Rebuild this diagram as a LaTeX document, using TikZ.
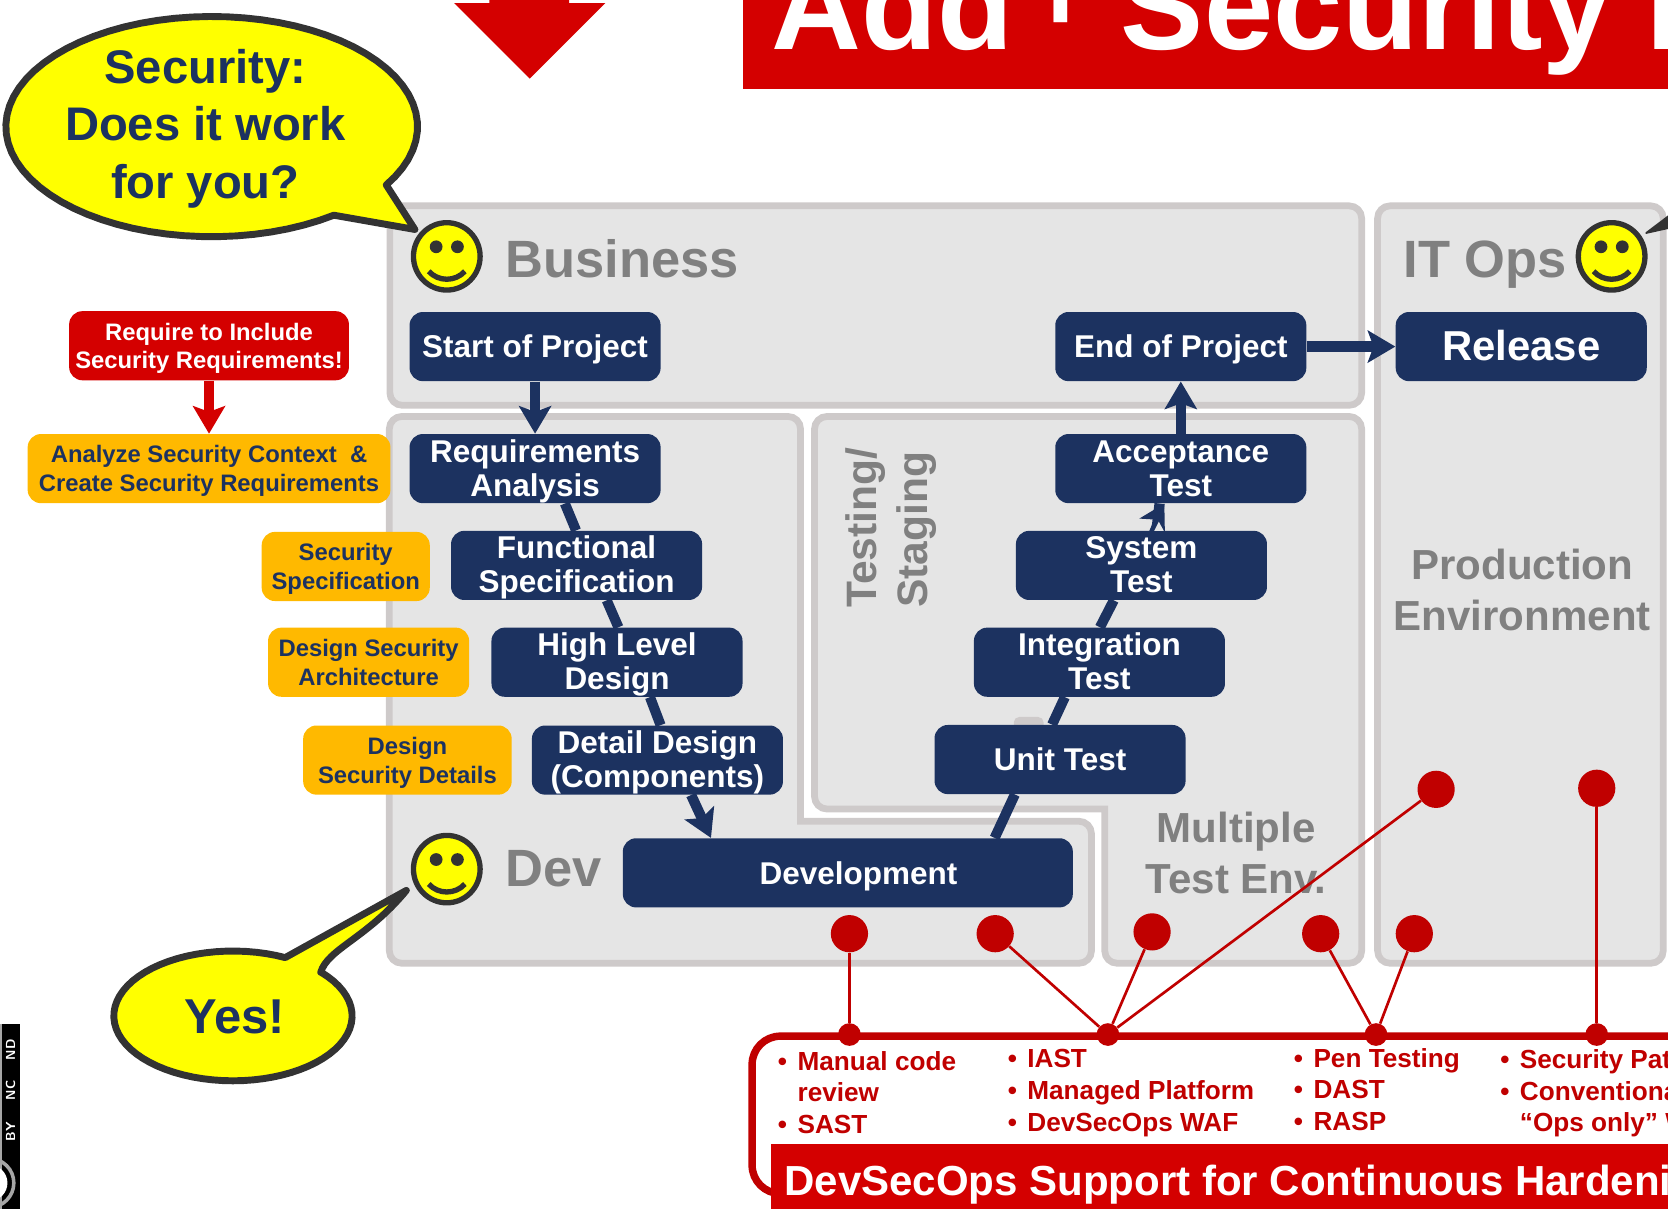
\documentclass[tikz,border=0pt]{standalone}
\usepackage{fontspec}
\setmainfont{Liberation Sans}[BoldFont={Liberation Sans Bold}]
\usetikzlibrary{arrows.meta,calc}
\definecolor{navy}{HTML}{1C3260}
\definecolor{redA}{HTML}{D40000}
\definecolor{redB}{HTML}{C00000}
\definecolor{orangeA}{HTML}{FFB900}
\definecolor{panelfill}{HTML}{E5E5E5}
\definecolor{panelline}{HTML}{CECACA}
\definecolor{labelgray}{HTML}{808080}
\definecolor{bubbleline}{HTML}{333333}
\definecolor{smileyellow}{HTML}{FFFF00}
\newcommand{\bul}{•\ \hspace{1.8pt}}
\tikzset{
  panel/.style={draw=panelline,fill=panelfill,line width=3.8pt,rounded corners=7pt},
  stepbox/.style={fill=navy,text=white,rounded corners=7.5pt,minimum width=141.6pt,minimum height=39pt,inner sep=0pt,align=center,text height=31pt,text depth=0pt,font=\bfseries\fontsize{17.76}{19.2}\selectfont},
  single/.style={text height=12.8pt},
  secbox/.style={fill=orangeA,text=navy,rounded corners=7.5pt,minimum height=39pt,inner sep=0pt,align=center,text height=26pt,text depth=0pt,font=\bfseries\fontsize{13.44}{16.2}\selectfont},
  bubble/.style={draw=bubbleline,fill=smileyellow,line width=3.9pt,line join=round},
  bubbletext/.style={text=navy,align=center,inner sep=0pt,font=\bfseries\fontsize{26.6}{32.4}\selectfont},
  grouplabel/.style={text=labelgray,inner sep=0pt,font=\bfseries\fontsize{29.6}{33}\selectfont},
  envlabel/.style={text=labelgray,inner sep=0pt,align=center,font=\bfseries\fontsize{23.7}{28.8}\selectfont},
  flow/.style={draw=navy,line width=5.8pt},
  flowtip/.style={flow,-{Stealth[length=15.5pt,width=18pt,inset=3.2pt]}},
  slant/.style={flow,line width=5.7pt},
  reddot/.style={circle,fill=redB,minimum size=21pt,inner sep=0pt},
  barjoint/.style={circle,fill=redB,minimum size=12.8pt,inner sep=0pt},
  link/.style={draw=redB,line width=1.5pt},
  listtext/.style={text=redB,anchor=west,align=left,inner sep=0pt,font=\bfseries\fontsize{14.76}{17.82}\selectfont},
  smiley/.pic={
    \fill[smileyellow,draw=bubbleline,line width=3pt] (0,0) ellipse[x radius=18.8pt,y radius=19pt];
    \fill[bubbleline] (-10,-9) circle[radius=3.6pt] (10,-9) circle[radius=3.6pt];
    \draw[bubbleline,line width=3pt] (-17,14) .. controls (-8,24) and (8,24) .. (17,14);
  }
}
\begin{document}
\begin{tikzpicture}[x=0.6pt,y=-0.6pt]
\useasboundingbox (0,0) rectangle (1568,1136.5);
\clip (0,0) rectangle (1568,1136.5);
% top arrow and title
\fill[redA] (460,-2) -- (535,-2) -- (535,3) -- (569,3) -- (498,74) -- (427,3) -- (460,3) -- cycle;
\node[fill=redA,minimum width=522pt,minimum height=50.1pt,inner sep=0pt,anchor=north west] (titlebar) at (698,0) {};
\node[anchor=base west,text=white,inner sep=0pt,font=\bfseries\fontsize{70.2}{72}\selectfont] (title) at (725,47) {Add\hspace{-13.4pt}\ \raisebox{9.6pt}{+}\hspace{-6pt}\ Security I};
% panels
\draw[panel] (366.5,193.5) rectangle (1280,381);
\draw[panel] (1295,193.5) rectangle (1563.5,905.5);
\draw[panel] (366,391.5) -- (752.5,391.5) [sharp corners] -- (752.5,772) [rounded corners=7pt] -- (1026,772) -- (1026,905.5) -- (366,905.5) -- cycle;
\draw[panel] (765.7,391.5) -- (1280,391.5) -- (1280,905.5) -- (1038.5,905.5) [sharp corners] -- (1038.5,760.5) [rounded corners=7pt] -- (765.7,760.5) -- cycle;
\fill[panelline,rounded corners=3pt] (953,674) rectangle (981,690);
% labels
\node[grouplabel,anchor=base west] (lblbiz) at (475,260.5) {Business};
\node[grouplabel,anchor=base west] (lbldev) at (475,833) {Dev};
\node[grouplabel,anchor=base west] (lblops) at (1319,260.5) {IT Ops};
\node[envlabel,rotate=90,align=left,font=\bfseries\fontsize{24}{28.8}\selectfont] (lbltest) at (838,496) {Testing/\\Staging};
\node[envlabel] (lblprod) at (1431,555) {Production\\Environment};
\node[envlabel] (lblmulti) at (1162,802) {Multiple\\Test Env.};
% smileys
\pic at (420,241) {smiley};
\pic at (420,817) {smiley};
\pic at (1515,241) {smiley};
% bubbles
\draw[bubble] plot[samples=70,domain=53.6:392] ({199+193.5*cos(\x)},{119+103.5*sin(\x)}) -- (390,215.7) -- cycle;
\node[bubbletext] (bubbleA) at (193,121) {Security:\\Does it work\\for you?};
\draw[bubble] plot[samples=70,domain=-42.4:296] ({219+112*cos(\x)},{955+61*sin(\x)}) -- (382,837) .. controls (345,882) and (308,892) .. (301.5,914) -- cycle;
\node[bubbletext,font=\bfseries\fontsize{27.6}{32.4}\selectfont] (bubbleB) at (220.5,955.5) {Yes!};
\fill[bubbleline,line join=round,draw=bubbleline,line width=1pt] (1547.5,219) -- (1570,202) -- (1570,214) -- cycle;
% process nodes
\node[stepbox,single] (start) at (503,325.8) {Start of Project};
\node[stepbox,single] (endp) at (1110,325.8) {End of Project};
\node[stepbox,text height=15.8pt,font=\bfseries\fontsize{23.6}{26}\selectfont] (release) at (1430,325.8) {Release};
\node[stepbox] (req) at (503,440.5) {Requirements\\Analysis};
\node[stepbox] (func) at (542,531.5) {Functional\\Specification};
\node[stepbox] (hld) at (580,622.5) {High Level\\Design};
\node[stepbox] (detail) at (618,714.5) {Detail Design\\(Components)};
\node[stepbox,single,minimum width=253.8pt] (devel) at (797,820.5) {\hspace{12pt}Development};
\node[stepbox,text height=11.8pt] (unit) at (996.5,714) {Unit Test};
\node[stepbox] (integ) at (1033.5,622.5) {Integration\\Test};
\node[stepbox] (sys) at (1073,531.5) {System\\Test};
\node[stepbox] (acc) at (1110,440.5) {Acceptance\\Test};
% security nodes
\node[secbox,fill=redA,text=white,minimum width=157.8pt] (reqsec) at (196.5,325) {Require to Include\\Security Requirements!};
\node[secbox,minimum width=204.6pt] (ctx) at (196.5,440.5) {Analyze Security Context\ \ \&\\Create Security Requirements};
\node[secbox,minimum width=94.8pt] (spec) at (325,532.5) {Security\\Specification};
\node[secbox,minimum width=113.4pt] (arch) at (346.5,622.5) {Design Security\\Architecture};
\node[secbox,minimum width=117.6pt] (dets) at (383,714.5) {Design\\Security Details};
% flow connectors
\draw[flowtip] (start.south) -- (req.north);
\draw[slant] ([xshift=16.8pt]req.south) -- ([xshift=-0.3pt]func.north);
\draw[slant] ([xshift=17pt]func.south) -- ([xshift=0.8pt]hld.north);
\draw[slant] ([xshift=18.6pt]hld.south) -- ([xshift=1.8pt]detail.north);
\draw[flowtip] ([xshift=19pt]detail.south) -- ([xshift=-77.2pt]devel.north);
\draw[slant] ([xshift=-25.5pt]unit.south) -- ([xshift=82.8pt]devel.north);
\draw[slant] ([xshift=-4.5pt]unit.north) -- ([xshift=-19.5pt]integ.south);
\draw[slant] ([xshift=0.3pt]integ.north) -- ([xshift=-15.6pt]sys.south);
\draw[slant] ([xshift=8.4pt]sys.north) -- ([xshift=-12pt]acc.south);
\fill[navy] ([xshift=-9.3pt]acc.south) -- ([xshift=-23.4pt,yshift=-8.5pt]acc.south) -- ([xshift=-15pt,yshift=-9pt]acc.south) -- ([xshift=-18pt,yshift=-16pt]acc.south) -- ([xshift=-9pt,yshift=-16pt]acc.south) -- cycle;
\fill[panelfill] (1089.3,490.4) -- (1085,499) -- (1094,499) -- cycle;
\draw[flowtip] (acc.north) -- (endp.south);
\draw[flowtip] (endp.east) -- (release.west);
\draw[flow,redA,-{Stealth[length=15.5pt,width=18pt,inset=3.2pt]}] (reqsec.south) -- (ctx.north);
% DevSecOps support box
\draw[draw=redB,line width=4.2pt,rounded corners=16pt] (1600,974) -- (707,974) -- (707,1122) -- (770,1122);
\node[fill=redA,minimum width=540pt,minimum height=40pt,inner sep=0pt,anchor=north west] (bar) at (724,1075.4) {};
\node[anchor=base west,text=white,inner sep=0pt,font=\bfseries\fontsize{23.7}{26}\selectfont] (bartext) at (737,1124) {DevSecOps Support for Continuous Hardeni};
% red dots
\node[reddot] (d1) at (798.5,877.7) {};
\node[reddot] (d2) at (935.5,877.7) {};
\node[reddot] (d3) at (1083,876) {};
\node[reddot] (d4) at (1241.5,877.7) {};
\node[reddot] (d5) at (1329.5,877.7) {};
\node[reddot] (d6) at (1350,742) {};
\node[reddot] (d7) at (1501,741) {};
\node[barjoint] (j1) at (798.5,972.5) {};
\node[barjoint] (j2) at (1041.5,972.5) {};
\node[barjoint] (j3) at (1293.5,972.5) {};
\node[barjoint] (j4) at (1501,972.5) {};
\draw[link] (d1) -- (j1);
\draw[link] (d2) -- (j2);
\draw[link] (d3) -- (j2);
\draw[link] (d6) -- (j2);
\draw[link] (d4) -- (j3);
\draw[link] (d5) -- (j3);
\draw[link] (d7) -- (j4);
% lists
\node[listtext] (l1) at (731,1027) {\bul Manual code\\\phantom{\bul}review\\\bul SAST};
\node[listtext] (l2) at (947,1027.5) {\bul IAST\\\bul Managed Platform\\\bul DevSecOps WAF};
\node[listtext] (l3) at (1216,1024) {\bul Pen Testing\\\bul DAST\\\bul RASP};
\node[listtext] (l4) at (1410,1028) {\bul Security Pat\\\bul Conventiona\\\phantom{\bul}“Ops only” W};
% licence badge
\fill[black] (0,962.6) rectangle (19,1136.5);
\draw[gray!70,line width=0.8pt] (0.8,962.6) -- (0.8,1136.5);
\fill[white] (-10,1112) circle[radius=17];
\draw[gray!70,line width=2pt] (-10,1112) circle[radius=23];
\node[rotate=90,text=white,inner sep=0pt,font=\bfseries\sffamily\fontsize{7.4}{8}\selectfont] (ccby) at (10,1064) {BY};
\node[rotate=90,text=white,inner sep=0pt,font=\bfseries\sffamily\fontsize{7.4}{8}\selectfont] (ccnc) at (10,1025) {NC};
\node[rotate=90,text=white,inner sep=0pt,font=\bfseries\sffamily\fontsize{7.4}{8}\selectfont] (ccnd) at (10,987) {ND};
\end{tikzpicture}
\end{document}
